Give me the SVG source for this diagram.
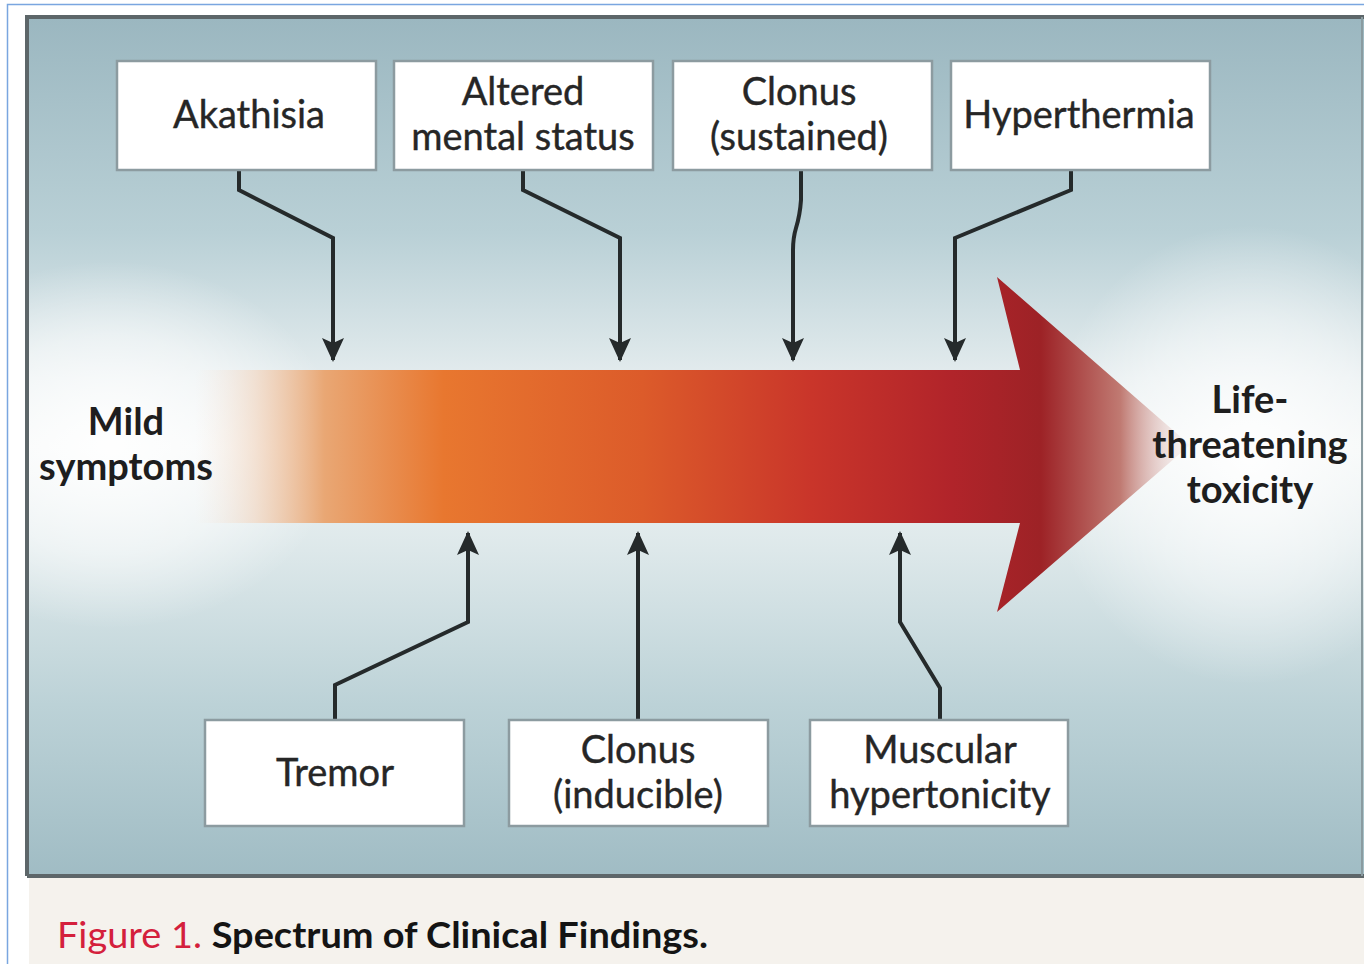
<svg xmlns="http://www.w3.org/2000/svg" width="1364" height="964" viewBox="0 0 1364 964">
<defs>
<style>
.box{fill:#ffffff;stroke:#8c9ba0;stroke-width:2.5}
.lbl{font-family:Lato,"Open Sans","Liberation Sans",sans-serif;font-size:38px;fill:#262626;text-anchor:middle;stroke:#262626;stroke-width:0.4}
.end{font-family:Lato,"Open Sans","Liberation Sans",sans-serif;font-size:38px;font-weight:bold;fill:#1e1e1e;text-anchor:middle}
.con{fill:none;stroke:#252a2b;stroke-width:4;stroke-linejoin:miter}
</style>
<marker id="ah" markerUnits="userSpaceOnUse" markerWidth="24" markerHeight="24" viewBox="0 0 24 24" refX="22" refY="12" orient="auto">
<path d="M0,1 L24,12 L0,23 L5,12 Z" fill="#252a2b"/>
</marker>
<linearGradient id="bgv" x1="0" y1="18" x2="0" y2="876" gradientUnits="userSpaceOnUse">
<stop offset="0" stop-color="#9bb7c0"/>
<stop offset="0.25" stop-color="#b9d0d6"/>
<stop offset="0.42" stop-color="#e4ecee"/>
<stop offset="0.5" stop-color="#f1f5f5"/>
<stop offset="0.62" stop-color="#dde8ea"/>
<stop offset="0.8" stop-color="#bcd2d7"/>
<stop offset="1" stop-color="#a0bcc4"/>
</linearGradient>
<radialGradient id="glowL" cx="110" cy="445" r="230" gradientUnits="userSpaceOnUse" gradientTransform="translate(110 445) scale(1 0.8) translate(-110 -445)">
<stop offset="0" stop-color="#ffffff" stop-opacity="0.95"/>
<stop offset="0.6" stop-color="#ffffff" stop-opacity="0.5"/>
<stop offset="1" stop-color="#ffffff" stop-opacity="0"/>
</radialGradient>
<radialGradient id="glowR" cx="1250" cy="455" r="230" gradientUnits="userSpaceOnUse" gradientTransform="translate(1250 455) scale(0.9 1) translate(-1250 -455)">
<stop offset="0" stop-color="#ffffff" stop-opacity="0.95"/>
<stop offset="0.6" stop-color="#ffffff" stop-opacity="0.45"/>
<stop offset="1" stop-color="#ffffff" stop-opacity="0"/>
</radialGradient>
<linearGradient id="arr" x1="195" y1="0" x2="1190" y2="0" gradientUnits="userSpaceOnUse">
<stop offset="0" stop-color="#f6e9df" stop-opacity="0"/>
<stop offset="0.06" stop-color="#f2d8c4" stop-opacity="0.7"/>
<stop offset="0.13" stop-color="#e9a774"/>
<stop offset="0.25" stop-color="#e8772f"/>
<stop offset="0.45" stop-color="#dc5b2a"/>
<stop offset="0.62" stop-color="#c9352a"/>
<stop offset="0.76" stop-color="#b1242a"/>
<stop offset="0.85" stop-color="#9d2226"/>
<stop offset="0.93" stop-color="#c07a72"/>
<stop offset="1" stop-color="#f2e6e4" stop-opacity="0.2"/>
</linearGradient>
</defs>

<rect x="0" y="0" width="1364" height="964" fill="#ffffff"/>
<path d="M7.5,964 V4.5 H1364" fill="none" stroke="#7aa6e0" stroke-width="1.5"/>

<g id="panel">
<rect x="26" y="16" width="1338" height="860" fill="url(#bgv)"/>
<rect x="26" y="16" width="1338" height="860" fill="url(#glowL)"/>
<rect x="26" y="16" width="1338" height="860" fill="url(#glowR)"/>
<path d="M27,876 V17 H1364" fill="none" stroke="#5d6669" stroke-width="4"/>
<line x1="27" y1="876" x2="1364" y2="876" stroke="#5d6669" stroke-width="4"/>
<line x1="1362" y1="17" x2="1362" y2="876" stroke="#8a9ba0" stroke-width="2"/>
</g>

<g id="caption">
<rect x="29" y="878" width="1335" height="86" fill="#f5f2ed"/>
<text x="57" y="948" font-family="Lato,'Open Sans','Liberation Sans',sans-serif" font-size="36" textLength="651" lengthAdjust="spacingAndGlyphs"><tspan fill="#d4203c">Figure 1. </tspan><tspan fill="#141414" font-weight="bold">Spectrum of Clinical Findings.</tspan></text>
</g>

<g id="spectrum-arrow">
<path d="M195,370 H1020 L997,277 L1190,445 L997,612 L1020,523 H195 Z" fill="url(#arr)"/>
</g>

<g id="mild">
<text class="end" x="126" y="435">Mild</text>
<text class="end" x="126" y="480">symptoms</text>
</g>
<g id="life">
<text class="end" x="1250" y="413">Life-</text>
<text class="end" x="1250" y="458">threatening</text>
<text class="end" x="1250" y="503">toxicity</text>
</g>

<g id="connectors">
<path class="con" d="M239,170 V190 L333,238 V360" marker-end="url(#ah)"/>
<path class="con" d="M523,170 V190 L620,238 V360" marker-end="url(#ah)"/>
<path class="con" d="M801,170 V200 Q800,215 796,228 Q793,238 793,250 V360" marker-end="url(#ah)"/>
<path class="con" d="M1071,170 V190 L955,238 V360" marker-end="url(#ah)"/>
<path class="con" d="M335,720 V685 L468,622 V533" marker-end="url(#ah)"/>
<path class="con" d="M638,720 V533" marker-end="url(#ah)"/>
<path class="con" d="M940,720 V688 L900,622 V533" marker-end="url(#ah)"/>
</g>

<g id="akathisia">
<rect class="box" x="117" y="61" width="259" height="109"/>
<text class="lbl" x="249" y="128">Akathisia</text>
</g>
<g id="altered-mental-status">
<rect class="box" x="394" y="61" width="259" height="109"/>
<text class="lbl" x="523" y="105">Altered</text>
<text class="lbl" x="523" y="150">mental status</text>
</g>
<g id="clonus-sustained">
<rect class="box" x="673" y="61" width="259" height="109"/>
<text class="lbl" x="799" y="105">Clonus</text>
<text class="lbl" x="799" y="150">(sustained)</text>
</g>
<g id="hyperthermia">
<rect class="box" x="951" y="61" width="259" height="109"/>
<text class="lbl" x="1079" y="128">Hyperthermia</text>
</g>
<g id="tremor">
<rect class="box" x="205" y="720" width="259" height="106"/>
<text class="lbl" x="335" y="786">Tremor</text>
</g>
<g id="clonus-inducible">
<rect class="box" x="509" y="720" width="259" height="106"/>
<text class="lbl" x="638" y="763">Clonus</text>
<text class="lbl" x="638" y="808">(inducible)</text>
</g>
<g id="muscular-hypertonicity">
<rect class="box" x="810" y="720" width="258" height="106"/>
<text class="lbl" x="940" y="763">Muscular</text>
<text class="lbl" x="940" y="808">hypertonicity</text>
</g>
</svg>
